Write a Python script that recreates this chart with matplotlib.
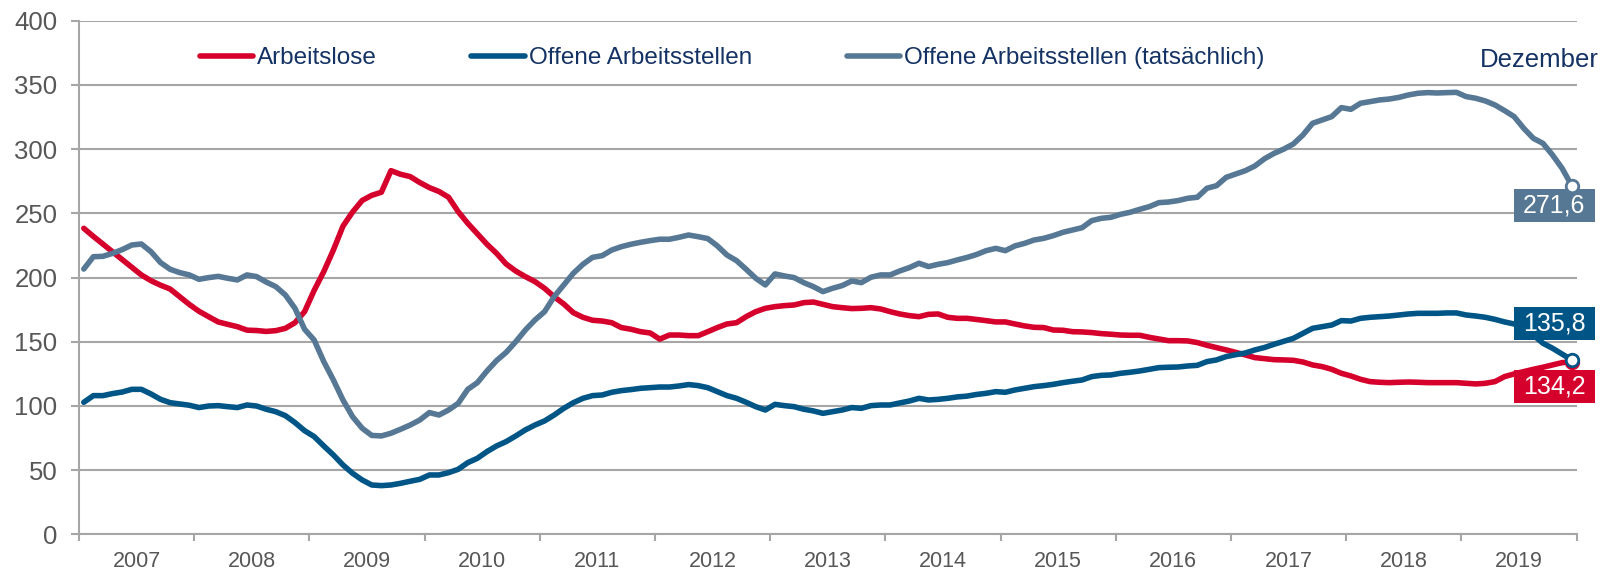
import numpy as np
import matplotlib.pyplot as plt
import matplotlib.ticker as ticker

plt.rcParams['font.family'] = ['Liberation Sans', 'DejaVu Sans']

# Monatswerte Jan 2007 - Dez 2019 (in Tsd.)
years = [str(y) for y in range(2007, 2020)]

arbeitslose = [
    238.3, 232.0, 226.0, 220.0, 214.0, 208.0, 202.0, 197.5, 194.0, 191.0, 185.0, 179.0,
    173.7, 169.5, 165.4, 163.5, 161.7, 159.0, 158.7, 158.0, 158.6, 160.4, 164.8, 173.4,
    190.0, 204.6, 221.4, 240.0, 251.0, 260.0, 264.0, 266.4, 283.2, 280.4, 278.6, 274.0,
    270.0, 267.0, 262.5, 251.3, 242.2, 234.0, 225.9, 218.8, 210.5, 205.0, 200.7, 196.8,
    191.6, 185.0, 179.4, 172.6, 169.0, 166.7, 166.1, 164.8, 161.0, 159.7, 157.8, 156.8,
    152.0, 155.2, 155.2, 154.7, 154.7, 157.8, 161.0, 163.8, 164.8, 169.5, 173.4, 176.0,
    177.3, 178.1, 178.6, 180.4, 180.9, 179.1, 177.3, 176.5, 175.8, 176.0, 176.5, 175.5,
    173.4, 171.6, 170.3, 169.5, 171.3, 171.6, 169.0, 168.2, 168.2, 167.3, 166.4, 165.4,
    165.4, 163.8, 162.3, 161.2, 161.0, 159.1, 158.9, 157.8, 157.6, 157.1, 156.3, 155.8,
    155.2, 155.0, 155.0, 153.4, 152.1, 150.8, 150.8, 150.6, 149.3, 147.2, 145.4, 143.6,
    141.7, 139.7, 137.6, 136.8, 136.0, 135.8, 135.5, 134.2, 131.9, 130.6, 128.5, 125.4,
    123.3, 120.7, 118.9, 118.4, 118.1, 118.4, 118.6, 118.4, 118.1, 118.1, 118.1, 118.1,
    117.6, 117.1, 117.6, 118.9, 122.8, 124.9, 126.7, 128.5, 130.1, 131.9, 133.7, 134.2,
]

offene_stellen = [
    102.8, 108.0, 108.0, 109.6, 110.8, 112.9, 112.9, 109.3, 105.1, 102.5, 101.5, 100.5,
    98.7, 99.9, 100.2, 99.4, 98.7, 100.7, 99.9, 97.4, 95.5, 92.4, 87.0, 80.7,
    76.1, 68.8, 61.8, 54.0, 47.5, 42.3, 38.4, 37.9, 38.4, 39.7, 41.3, 42.8,
    46.2, 46.2, 48.0, 50.6, 55.8, 59.2, 64.4, 68.8, 72.2, 76.6, 81.3, 85.1,
    88.3, 92.9, 98.1, 102.5, 105.9, 108.0, 108.5, 110.6, 111.9, 112.7, 113.7, 114.2,
    114.7, 114.7, 115.5, 116.6, 115.8, 114.2, 111.1, 108.0, 105.9, 102.8, 99.4, 96.8,
    101.2, 100.2, 99.4, 97.4, 96.1, 94.2, 95.5, 96.8, 98.7, 98.1, 100.2, 100.7,
    100.7, 102.3, 103.8, 105.9, 104.6, 105.1, 105.9, 107.0, 107.6, 108.9, 109.8, 111.1,
    110.6, 112.4, 113.7, 115.0, 115.8, 116.8, 118.1, 119.2, 120.2, 122.8, 123.8, 124.1,
    125.4, 126.2, 127.2, 128.5, 129.8, 130.1, 130.3, 131.1, 131.6, 134.5, 135.8, 138.4,
    139.9, 141.2, 143.6, 145.5, 148.0, 150.3, 152.6, 156.5, 160.4, 161.7, 163.0, 166.4,
    166.1, 168.2, 169.0, 169.5, 170.0, 170.8, 171.6, 172.1, 172.1, 172.1, 172.4, 172.4,
    170.8, 170.0, 169.0, 167.4, 165.4, 163.8, 160.4, 155.2, 148.8, 144.9, 140.4, 135.8,
]

offene_stellen_tats = [
    206.6, 216.2, 216.5, 218.8, 221.7, 225.3, 226.1, 220.1, 211.6, 206.4, 203.8, 202.0,
    198.6, 199.9, 200.9, 199.4, 198.1, 202.0, 200.7, 196.5, 192.9, 186.4, 176.0, 159.7,
    151.3, 134.5, 120.2, 104.6, 91.6, 82.6, 77.0, 76.6, 78.7, 81.8, 85.1, 89.0,
    94.8, 92.9, 96.8, 102.0, 112.9, 118.1, 127.2, 135.3, 141.7, 150.0, 159.1, 166.9,
    173.4, 185.1, 194.2, 203.3, 210.3, 215.7, 217.0, 221.4, 224.0, 225.9, 227.4, 228.7,
    229.8, 229.8, 231.3, 233.1, 231.8, 230.3, 224.6, 217.5, 213.1, 206.4, 199.4, 194.2,
    202.8, 201.2, 199.9, 196.0, 192.9, 189.0, 191.6, 193.7, 197.3, 196.0, 200.2, 202.0,
    202.0, 205.1, 207.7, 211.1, 208.5, 210.3, 211.6, 213.7, 215.6, 217.9, 220.9, 222.7,
    220.9, 224.6, 226.6, 229.2, 230.5, 232.6, 235.2, 237.0, 238.8, 244.3, 246.1, 246.9,
    249.2, 250.8, 253.1, 255.2, 258.3, 258.8, 259.9, 261.7, 262.5, 269.5, 271.5, 278.0,
    280.6, 283.2, 286.9, 292.5, 296.7, 300.0, 304.0, 311.0, 320.1, 322.7, 325.3, 332.3,
    331.0, 335.7, 337.0, 338.3, 339.0, 340.3, 342.2, 343.5, 344.0, 343.7, 344.0, 344.2,
    340.9, 339.6, 337.5, 334.4, 330.0, 325.3, 316.2, 308.4, 304.5, 295.4, 285.0, 271.6,
]

RED = '#D5002B'
BLUE = '#005587'
GREY = '#567894'
NAVY = '#143264'
GRID = '#A6A6A6'
TXT = '#575757'

fig = plt.figure(figsize=(16.02, 5.69), dpi=100)
ax = fig.add_axes([0.0493, 0.0610, 0.9348, 0.9026])

x = np.arange(len(arbeitslose)) + 0.5

series = [
    (arbeitslose, RED, 'Arbeitslose', (-12.5, -17.5)),
    (offene_stellen, BLUE, 'Offene Arbeitsstellen', (-12.5, 26.5)),
    (offene_stellen_tats, GREY, 'Offene Arbeitsstellen (tatsächlich)', (-12.5, -14)),
]

for y, col, lab, off in series:
    ax.plot(x, y, color=col, lw=4, label=lab, solid_capstyle='round', solid_joinstyle='round')

# Endwerte: Marker + Beschriftung
for y, col, lab, off in series:
    v = y[-1]
    ax.annotate(f'{v:.1f}'.replace('.', ','), xy=(x[-1], v), xytext=off,
                textcoords='offset points', ha='center', va='center',
                fontsize=18, color='white', zorder=4,
                bbox=dict(boxstyle='square,pad=0.36', mutation_aspect=0.5, fc=col, ec='none'))
    ax.plot(x[-1], v, 'o', ms=9, mfc='white', mec=col, mew=2, zorder=6, clip_on=False)

ax.set_xlim(0, len(arbeitslose))
ax.set_ylim(0, 400)

ax.yaxis.set_major_locator(ticker.MultipleLocator(50))
ax.grid(True, axis='y', color=GRID, lw=1.5)
ax.set_axisbelow(True)

ax.set_xticks(np.arange(len(years)) * 12 + 6)
ax.set_xticklabels(years)
ax.set_xticks(np.arange(len(years) + 1) * 12, minor=True)
ax.tick_params(axis='x', which='major', length=0, pad=12, labelsize=15.5, labelcolor=TXT)
ax.tick_params(axis='x', which='minor', length=5, width=1.5, color=GRID)
ax.tick_params(axis='y', length=5.5, width=1.5, color=GRID, pad=10, labelsize=18.5, labelcolor=TXT)

for s in ['top', 'right']:
    ax.spines[s].set_visible(False)
for s in ['left', 'bottom']:
    ax.spines[s].set_color(GRID)
    ax.spines[s].set_linewidth(1.5)

leg = ax.legend(loc='center left', bbox_to_anchor=(199.6 / 1602, 1 - 58 / 569),
                bbox_transform=fig.transFigure, ncol=3, frameon=False, fontsize=17.5,
                handlelength=2.2, handletextpad=0.15, columnspacing=3.9,
                borderpad=0, borderaxespad=0)
for t in leg.get_texts():
    t.set_color(NAVY)

fig.text(1599 / 1602, 1 - 66.7 / 569, 'Dezember', ha='right', va='baseline',
         fontsize=18.5, color=NAVY)

fig.savefig('out.png', dpi=100)
